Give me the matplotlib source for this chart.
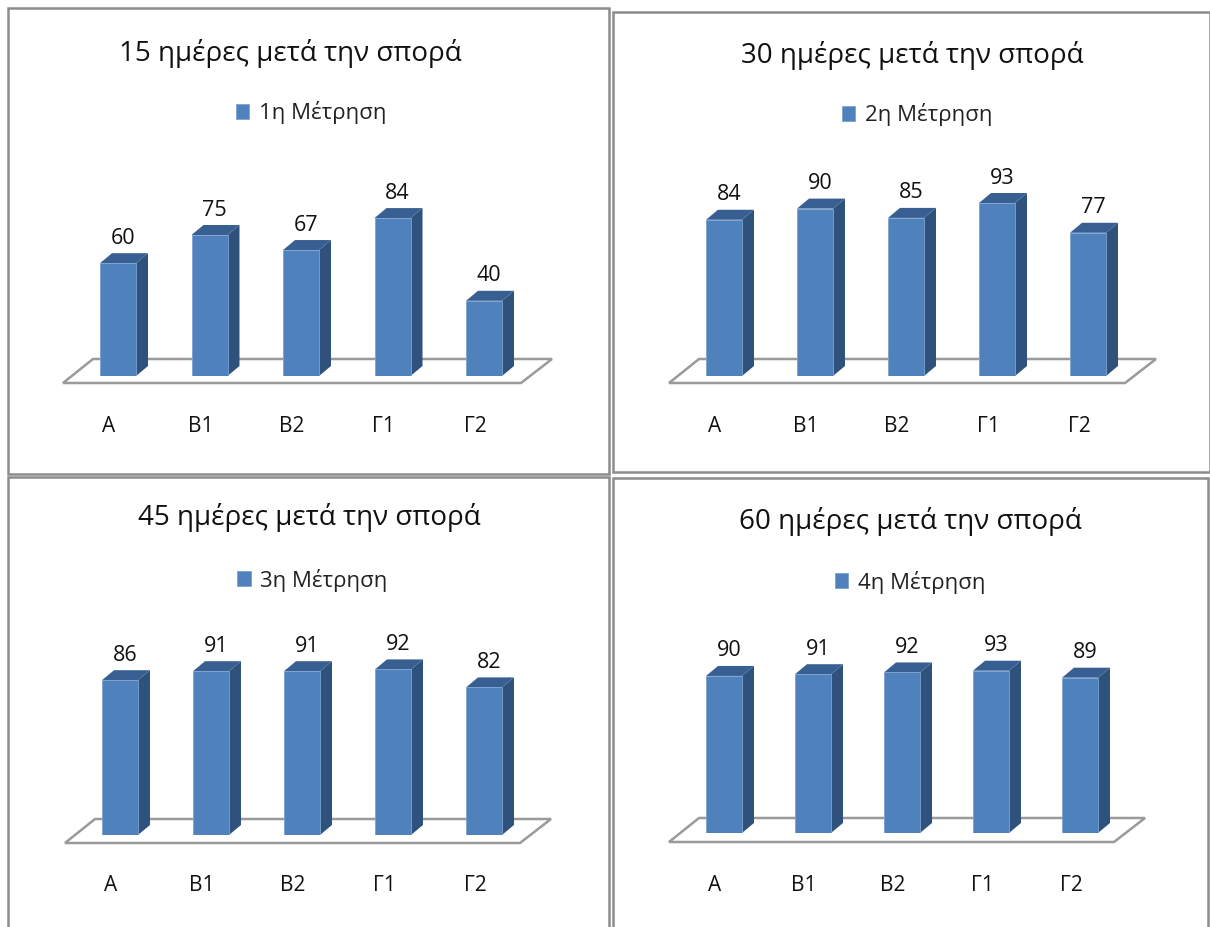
import matplotlib
matplotlib.use("Agg")
import matplotlib.pyplot as plt
from matplotlib.patches import Polygon, Rectangle
from matplotlib.transforms import ScaledTranslation

plt.rcParams['font.family'] = ['Open Sans', 'DejaVu Sans']

W, H = 1210, 927
DPI = 100

categories = ["Α", "Β1", "Β2", "Γ1", "Γ2"]

titles = ["15 ημέρες μετά την σπορά", "30 ημέρες μετά την σπορά",
          "45 ημέρες μετά την σπορά", "60 ημέρες μετά την σπορά"]
series_names = ["1η Μέτρηση", "2η Μέτρηση", "3η Μέτρηση", "4η Μέτρηση"]

values_15 = [60, 75, 67, 84, 40]
values_30 = [84, 90, 85, 93, 77]
values_45 = [86, 91, 91, 92, 82]
values_60 = [90, 91, 92, 93, 89]
all_values = [values_15, values_30, values_45, values_60]

# frame box (left, top, right, bottom) for every chart, in pixels
frames = [(8, 8, 609, 474), (613, 12, 1210, 472),
          (8, 477, 609, 930), (613, 478, 1208, 930)]
# first bar centre, bar spacing, baseline y, pixels per unit
scales = [(118, 91.5, 376, 1.88), (724, 91, 376, 1.86),
          (120, 91, 835, 1.80), (724, 89, 833, 1.745)]
title_pos = [(290, 54), (912, 55), (309, 518), (910, 522)]
legend_pos = [(311, 113), (917, 115), (312, 580), (910, 582)]
# how far the floor sits below the baseline, and its right edge overhang
floor_drop = [7, 7, 8, 9]
floor_right = [37, 37, 36, 34]
tick_pad = [29, 29, 29, 30]

FRONT = "#4F81BD"
SIDE = "#2F527D"
TOP = "#385F92"
BAR_W = 36
DEPTH_X, DEPTH_Y = 12, 10

fig = plt.figure(figsize=(W / DPI, H / DPI), dpi=DPI, facecolor="white")


def draw_chart(n):
    x0, step, base, ppu = scales[n]
    vals = all_values[n]

    ax = fig.add_axes([(x0 - step / 2) / W, 1 - base / H, step * 5 / W, 100 * ppu / H])
    ax.set_xlim(-0.5, 4.5)
    ax.set_ylim(0, 100)
    ax.patch.set_alpha(0)
    for s in ax.spines.values():
        s.set_visible(False)
    ax.set_yticks([])

    # pixel offsets to data units
    px = lambda p: p / step
    py = lambda p: p / ppu

    # grey floor under the bars
    drop = floor_drop[n]
    right = floor_right[n]
    floor = [(px(-55), py(-drop)), (4 + px(right), py(-drop)),
             (4 + px(right + 31), py(24 - drop)), (px(-25), py(24 - drop))]
    ax.add_patch(Polygon(floor, closed=True, facecolor="white", edgecolor="#9a9a9a",
                         linewidth=1.8, clip_on=False, zorder=1))

    w = px(BAR_W)
    bars = ax.bar(range(5), vals, width=w, color=FRONT, edgecolor="#7da3d1",
                  linewidth=0.6, label=series_names[n], zorder=3)

    dx, dy = px(DEPTH_X), py(DEPTH_Y)
    for i, v in enumerate(vals):
        l, r = i - w / 2, i + w / 2
        side = [(r, 0), (r + dx, dy), (r + dx, v + dy), (r, v)]
        top = [(l, v), (r, v), (r + dx, v + dy), (l + dx, v + dy)]
        ax.add_patch(Polygon(side, closed=True, facecolor=SIDE, edgecolor="none",
                             clip_on=False, zorder=2))
        ax.add_patch(Polygon(top, closed=True, facecolor=TOP, edgecolor="none",
                             clip_on=False, zorder=2))
        ax.annotate(str(v), xy=(i, v), xytext=(3.6, 18), textcoords="offset points",
                    ha="center", va="center", fontsize=15.5, color="#111111",
                    annotation_clip=False)

    ax.set_xticks(range(5))
    ax.set_xticklabels(categories, fontsize=15, color="#111111")
    ax.tick_params(axis="x", length=0, pad=tick_pad[n])
    shift = ScaledTranslation(-9 / DPI, 0, fig.dpi_scale_trans)
    for lab in ax.get_xticklabels():
        lab.set_transform(lab.get_transform() + shift)

    tx, ty = title_pos[n]
    fig.text(tx / W, 1 - ty / H, titles[n], ha="center", va="center",
             fontsize=20, color="#111111")

    lx, ly = legend_pos[n]
    fig.legend(handles=[bars], loc="center", bbox_to_anchor=(lx / W, 1 - ly / H),
               frameon=False, fontsize=16, handlelength=0.62, handleheight=0.62,
               handletextpad=0.42, borderpad=0, labelcolor="#222222")


for n in range(4):
    left, top, right, bottom = frames[n]
    fig.add_artist(Rectangle((left / W, 1 - bottom / H), (right - left) / W,
                             (bottom - top) / H, transform=fig.transFigure,
                             facecolor="white", edgecolor="#8c8c8c", linewidth=1.8,
                             zorder=-1))
    draw_chart(n)

fig.savefig("out.png", dpi=DPI)
